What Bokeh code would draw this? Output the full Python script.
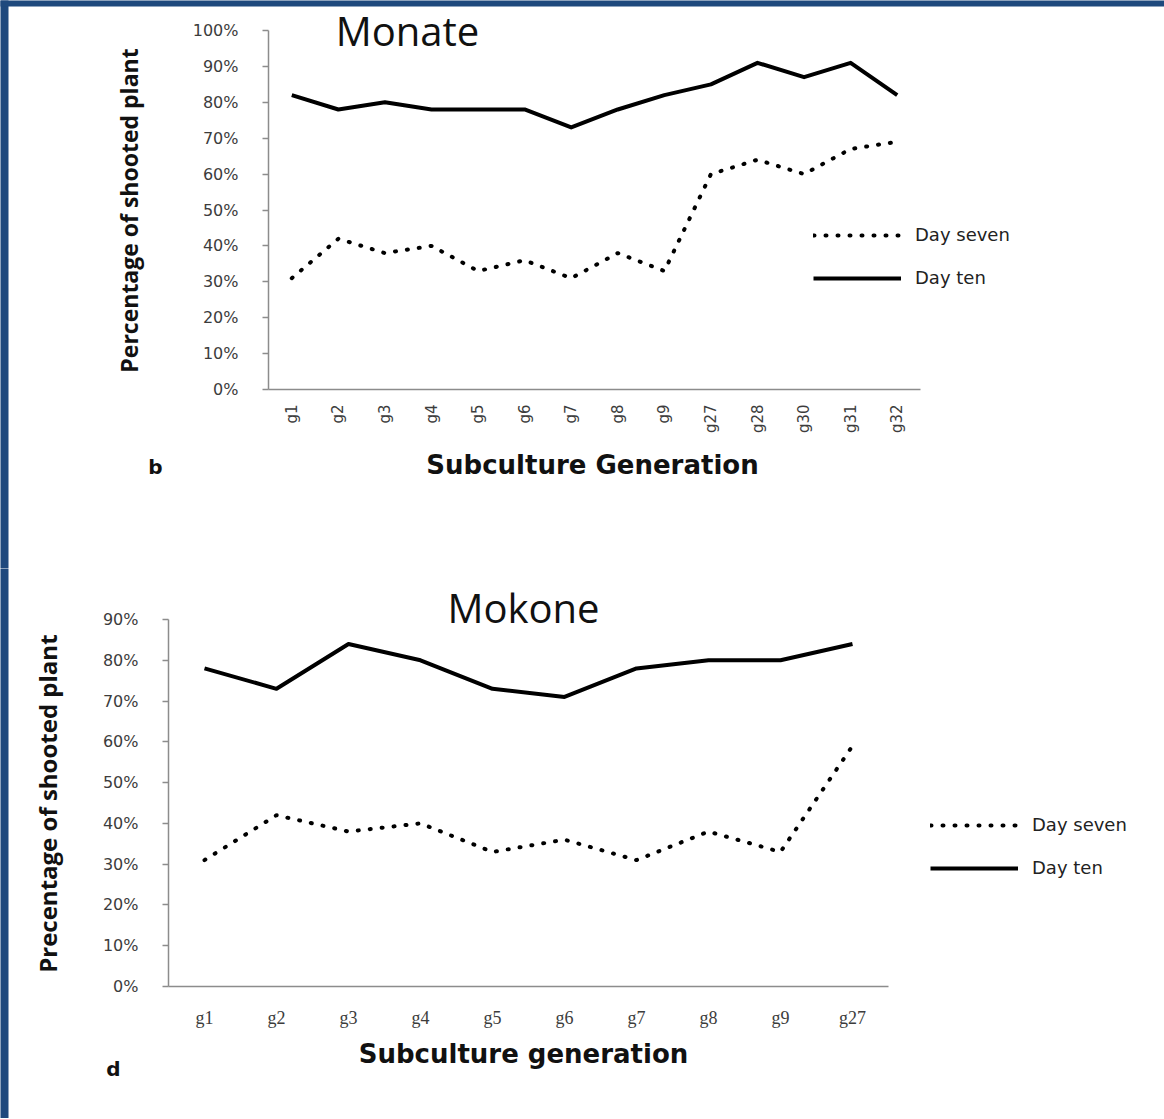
import math
from bokeh.plotting import figure
from bokeh.layouts import column
from bokeh.models import (Range1d, FixedTicker, NumeralTickFormatter,
                          Label, Legend, LegendItem, BoxAnnotation)
from bokeh.embed import file_html
from bokeh.resources import INLINE

# ---------------- data ----------------
monate_cats = ["g1", "g2", "g3", "g4", "g5", "g6", "g7", "g8", "g9",
               "g27", "g28", "g30", "g31", "g32"]
monate_day7 = [0.31, 0.42, 0.38, 0.40, 0.33, 0.36, 0.31, 0.38, 0.33,
               0.60, 0.64, 0.60, 0.67, 0.69]
monate_day10 = [0.82, 0.78, 0.80, 0.78, 0.78, 0.78, 0.73, 0.78, 0.82,
                0.85, 0.91, 0.87, 0.91, 0.82]

mokone_cats = ["g1", "g2", "g3", "g4", "g5", "g6", "g7", "g8", "g9", "g27"]
mokone_day7 = [0.31, 0.42, 0.38, 0.40, 0.33, 0.36, 0.31, 0.38, 0.33, 0.59]
mokone_day10 = [0.78, 0.73, 0.84, 0.80, 0.73, 0.71, 0.78, 0.80, 0.80, 0.84]

monate_yticks = [0.0, 0.1, 0.2, 0.3, 0.4, 0.5, 0.6, 0.7, 0.8, 0.9, 1.0]
mokone_yticks = [0.0, 0.1, 0.2, 0.3, 0.4, 0.5, 0.6, 0.7, 0.8, 0.9]

series_names = ["Day seven", "Day ten"]

W = 1164
AXIS_COL = "#8c8c8c"
TXT_COL = "#3c3c3c"
FRAME_BLUE = "#1F497D"
DOT = "1 11"


def make_fig(H, cats, ymax, area):
    """area = (left, right, top, bottom) of the plotting box in canvas px."""
    left, right, top, bottom = area
    n = len(cats)
    xpx = (right - left) / n          # px per category
    ypx = (bottom - top) / ymax       # px per unit of y
    x0 = -0.5 - left / xpx
    x1 = n - 0.5 + (W - right) / xpx
    y1 = ymax + top / ypx
    y0 = -(H - bottom) / ypx
    p = figure(width=W, height=H, x_range=Range1d(x0, x1), y_range=Range1d(y0, y1),
               output_backend="svg", toolbar_location=None, min_border=0)
    p.xgrid.grid_line_color = None
    p.ygrid.grid_line_color = None
    p.outline_line_color = None
    # slide border strip on the left edge
    p.add_layout(BoxAnnotation(left=-5, right=8, left_units="screen",
                               right_units="screen", top=H + 10, bottom=-10,
                               top_units="screen", bottom_units="screen",
                               fill_color=FRAME_BLUE, fill_alpha=1, line_alpha=0))
    return p


def style_axes(p, cats, yticks, ymax, xfont, xsize, xorient, xstandoff):
    n = len(cats)
    xa = p.xaxis[0]
    ya = p.yaxis[0]
    xa.fixed_location = 0
    ya.fixed_location = -0.5
    xa.bounds = (-0.5, n - 0.5)
    ya.bounds = (0, ymax)
    for ax in (xa, ya):
        ax.axis_line_color = AXIS_COL
        ax.axis_line_width = 1.5
        ax.minor_tick_line_color = None
    ya.ticker = FixedTicker(ticks=yticks)
    ya.formatter = NumeralTickFormatter(format="0%")
    ya.major_tick_line_color = AXIS_COL
    ya.major_tick_line_width = 1.5
    ya.major_tick_out = 6
    ya.major_tick_in = 0
    ya.major_label_standoff = 24
    ya.major_label_text_font = "DejaVu Sans"
    ya.major_label_text_font_size = "16px"
    ya.major_label_text_color = TXT_COL
    xa.ticker = FixedTicker(ticks=list(range(n)))
    xa.major_label_overrides = {i: c for i, c in enumerate(cats)}
    xa.major_tick_line_color = None
    xa.major_label_standoff = xstandoff
    xa.major_label_text_font = xfont
    xa.major_label_text_font_size = xsize
    xa.major_label_text_color = TXT_COL
    xa.major_label_orientation = xorient


def add_label(p, H, x, y, text, font, size, bold=False, angle=0.0):
    # x, y given in canvas pixels from the top-left corner
    p.add_layout(Label(x=x, y=H - y, x_units="screen", y_units="screen", text=text,
                       text_font=font, text_font_size=size,
                       text_font_style="bold" if bold else "normal",
                       text_color="#111111", angle=angle,
                       text_align="center", text_baseline="middle"))


def add_legend(p, H, r7, r10, lx, ly):
    leg = Legend(items=[LegendItem(label=series_names[0], renderers=[r7]),
                        LegendItem(label=series_names[1], renderers=[r10])],
                 location=(lx, H - ly), glyph_width=88, glyph_height=20,
                 label_height=20, spacing=22, padding=0, margin=0,
                 label_standoff=14, label_text_font="DejaVu Sans",
                 label_text_font_size="18px", label_text_color="#222222",
                 background_fill_alpha=0, border_line_color=None)
    p.add_layout(leg)


def draw(p, day7, day10):
    xs = list(range(len(day7)))
    r7 = p.line(xs, day7, line_color="black", line_width=4,
                line_dash=DOT, line_cap="round")
    r10 = p.line(xs, day10, line_color="black", line_width=4, line_join="round")
    return r7, r10


# ---------------- chart b: Monate ----------------
H1 = 568
pb = make_fig(H1, monate_cats, 1.0, (268, 920, 30, 389))
pb.add_layout(BoxAnnotation(bottom=H1 - 6, top=H1 + 10, left=-10, right=W + 10,
                            bottom_units="screen", top_units="screen",
                            left_units="screen", right_units="screen",
                            fill_color=FRAME_BLUE, fill_alpha=1, line_alpha=0))
style_axes(pb, monate_cats, monate_yticks, 1.0, "DejaVu Sans", "15px", math.pi / 2, 9)
rb7, rb10 = draw(pb, monate_day7, monate_day10)
add_legend(pb, H1, rb7, rb10, 813, 288)
add_label(pb, H1, 407, 30, "Monate", "Open Sans", "40px")
add_label(pb, H1, 128, 210, "Percentage of shooted plant", "Open Sans", "23px",
          bold=True, angle=math.pi / 2)
add_label(pb, H1, 592, 464, "Subculture Generation", "DejaVu Sans", "26px", bold=True)
add_label(pb, H1, 155, 466, "b", "DejaVu Sans", "20px", bold=True)

# ---------------- chart d: Mokone ----------------
H2 = 550
pd_ = make_fig(H2, mokone_cats, 0.9, (168, 888, 51, 418))
style_axes(pd_, mokone_cats, mokone_yticks, 0.9, "Liberation Serif", "18px",
           "horizontal", 15)
rd7, rd10 = draw(pd_, mokone_day7, mokone_day10)
add_legend(pd_, H2, rd7, rd10, 930, 310)
add_label(pd_, H2, 523, 39, "Mokone", "Open Sans", "40px")
add_label(pd_, H2, 47, 232, "Precentage of  shooted plant", "Open Sans", "24px",
          bold=True, angle=math.pi / 2)
add_label(pd_, H2, 523, 485, "Subculture generation", "DejaVu Sans", "26px", bold=True)
add_label(pd_, H2, 113, 500, "d", "DejaVu Sans", "20px", bold=True)

layout = column(pb, pd_, spacing=0)
open("out.html", "w").write(file_html(layout, INLINE))
